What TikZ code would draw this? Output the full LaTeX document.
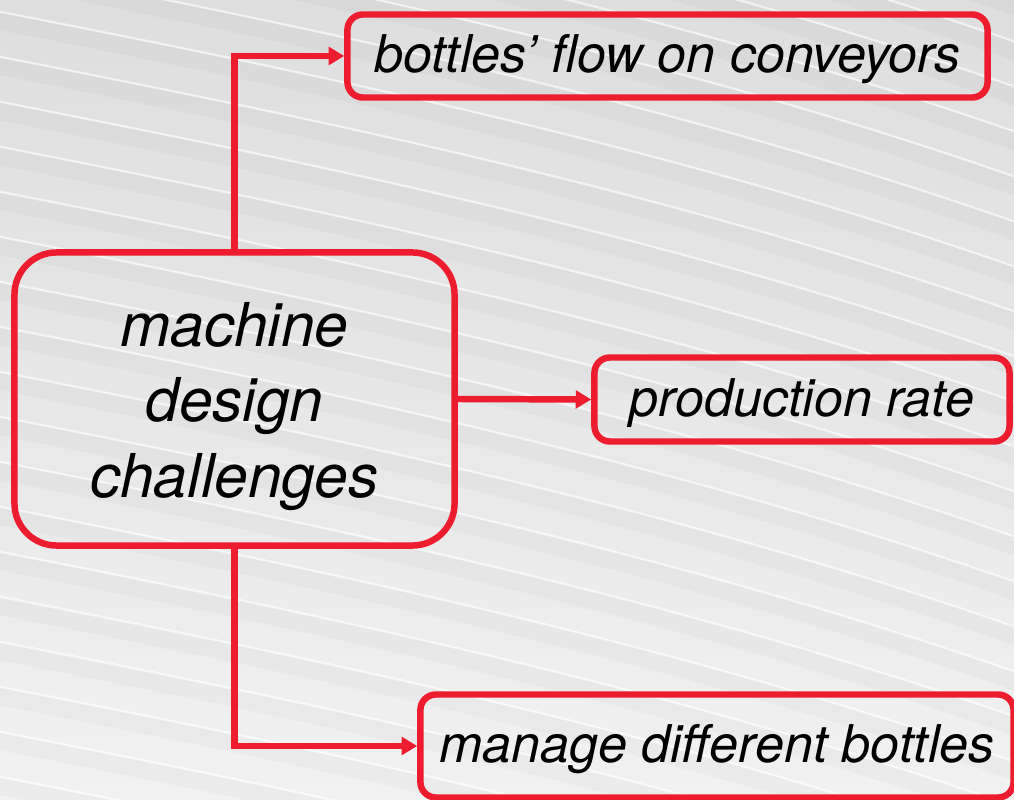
\documentclass[tikz,border=0pt]{standalone}
\usepackage{fontspec}
\setmainfont{TeX Gyre Heros}
\usetikzlibrary{arrows.meta,positioning}
\definecolor{boxred}{RGB}{237,28,46}
\definecolor{bgtop}{RGB}{222,222,222}
\definecolor{bgbot}{RGB}{241,241,241}

\begin{document}
\begin{tikzpicture}[x=0.025cm,y=-0.025cm,
  box/.style={draw=boxred,line width=4.6pt,rounded corners=11pt,inner sep=0pt,text height=30pt,text depth=6pt,font=\fontsize{37}{44}\selectfont\itshape},
  link/.style={draw=boxred,line width=4.6pt,-{Triangle[length=11pt,width=12.5pt]}},
  stripe/.style={white,line width=1.5pt,opacity=.6},
  shadow/.style={black,line width=12pt,opacity=.025}]
\clip (0,0) rectangle (1014,800);
% striped backdrop
\shade[top color=bgtop,bottom color=bgbot] (0,0) rectangle (1014,800);
\foreach \k in {-8,...,18}{
  \draw[shadow] (-60,{\k*45+10}) .. controls (300,{\k*45+80}) and (700,{\k*45+160}) .. (1080,{\k*45+300});
  \draw[stripe] (-60,{\k*45}) .. controls (300,{\k*45+70}) and (700,{\k*45+150}) .. (1080,{\k*45+290});}
% boxes
\node[box,rounded corners=30pt,minimum width=11cm,minimum height=7.325cm,text height=,text depth=,align=center,font=\fontsize{43}{53.5}\selectfont\itshape] (core) at (234.5,399) {\rule{0pt}{42pt}machine\\design\\challenges};
\node[box,minimum width=16cm,minimum height=2.075cm] (flow) at (667.5,56) {bottles’ flow on conveyors};
\node[box,minimum width=10.375cm,minimum height=2.1cm] (rate) at (802,399.5) {production rate};
\node[box,minimum width=14.825cm,minimum height=2.575cm] (bottles) at (717,746) {manage different bottles};
% links
\draw[link] (core.north) |- (flow.west);
\draw[link] (core.east) -- (rate.west);
\draw[link] (core.south) |- (bottles.west);
\end{tikzpicture}
\end{document}
